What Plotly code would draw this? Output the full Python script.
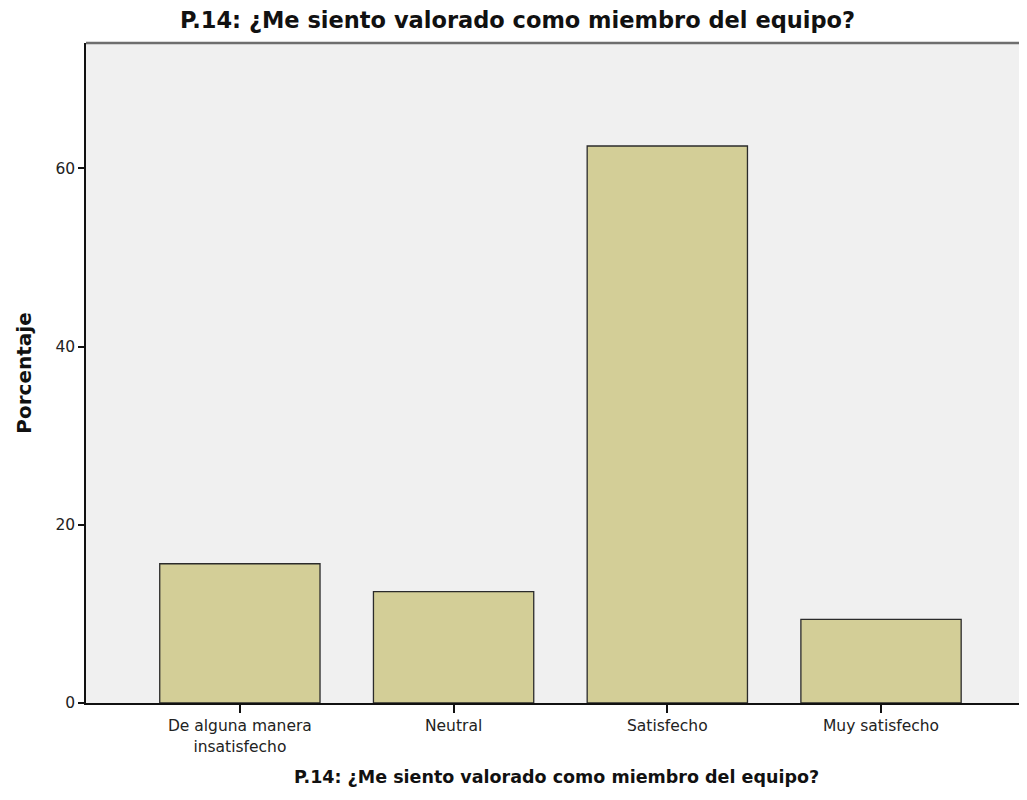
import plotly.graph_objects as go

categories = ["De alguna manera<br>insatisfecho", "Neutral", "Satisfecho", "Muy satisfecho"]
percentages = [15.625, 12.5, 62.5, 9.375]
y_ticks = [0, 20, 40, 60]
title_text = "P.14: ¿Me siento valorado como miembro del equipo?"

FIG_W, FIG_H = 1019, 792  # page body has an 8px margin

fig = go.Figure()
fig.add_trace(go.Bar(
    x=categories,
    y=percentages,
    width=0.75,
    marker=dict(color="#d3ce97", line=dict(color="#2b2b2b", width=1.3)),
    hoverinfo="x+y",
))

fig.update_layout(
    width=FIG_W,
    height=FIG_H,
    margin=dict(l=78, r=0, t=35, b=97),
    paper_bgcolor="white",
    plot_bgcolor="#f0f0f0",
    font=dict(family="DejaVu Sans, Arial, sans-serif", color="#222222"),
    title=dict(
        text="<b>" + title_text + "</b>",
        x=0.5, xanchor="center",
        y=1 - 12 / FIG_H, yanchor="middle",
        font=dict(family="DejaVu Sans", size=22.5, color="#111111"),
    ),
    showlegend=False,
)

fig.update_xaxes(
    type="category",
    range=[-0.72, 3.683],
    showline=True, linecolor="#111111", linewidth=1.5,
    ticks="outside", ticklen=8, tickcolor="#111111", tickwidth=1.5,
    tickfont=dict(family="DejaVu Sans", size=15.5, color="#222222"),
    showgrid=False, zeroline=False,
    title=dict(text="<b>" + title_text + "</b>",
               font=dict(family="DejaVu Sans", size=17.5, color="#111111"), standoff=16),
)

fig.update_yaxes(
    range=[0, 74.06],
    tickvals=y_ticks,
    showline=True, linecolor="#111111", linewidth=1.5,
    ticks="outside", ticklen=6, tickcolor="#111111", tickwidth=1.5,
    tickfont=dict(family="DejaVu Sans", size=15.5, color="#222222"),
    showgrid=False, zeroline=False,
    title=dict(text="<b>Porcentaje</b>",
               font=dict(family="DejaVu Sans", size=20, color="#111111"), standoff=18),
)

# top frame line of plot area
fig.add_shape(type="line", xref="paper", yref="paper", x0=0, x1=1, y0=1, y1=1,
              line=dict(color="#6e6e6e", width=2.5))

fig.write_html("out.html")
